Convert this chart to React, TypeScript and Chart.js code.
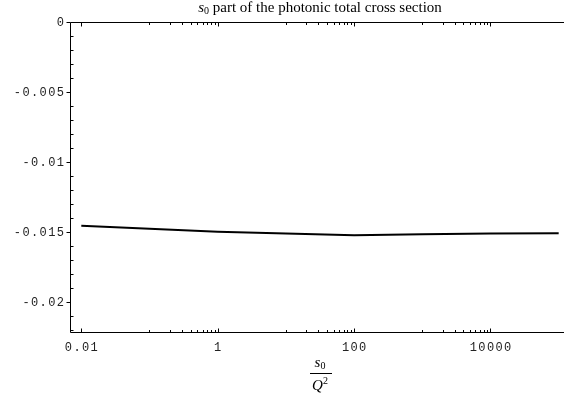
import React, { useEffect, useRef } from "react";
import { Chart, registerables } from "chart.js";

Chart.register(...registerables);

// Data
const xValues: number[] = [0.01, 0.1, 1, 10, 100, 1000, 10000, 100000];
const yValues: number[] = [-0.01453, -0.01474, -0.01496, -0.01509, -0.01521, -0.01514, -0.01509, -0.01507];

const xMajorTicks: number[] = [0.01, 1, 100, 10000];
const xTickLabels: string[] = ["0.01", "1", "100", "10000"];
const yMajorTicks: number[] = [0, -0.005, -0.01, -0.015, -0.02];
const yTickLabels: string[] = ["0", "-0.005", "-0.01", "-0.015", "-0.02"];
const yMinorStep = 0.001;

const X_MIN = Math.pow(10, -2.173);
const X_MAX = Math.pow(10, 5.078);
const Y_MIN = -0.0221;
const Y_MAX = 0;

const MONO = '"Liberation Mono", monospace';
const SERIF = '"Liberation Serif", serif';

function drawSubText(ctx: CanvasRenderingContext2D, cx: number, base: number, main: string, sub: string, rest: string, supMode: boolean, size: number) {
  const sm = Math.round(size * 0.68);
  ctx.save();
  ctx.textAlign = "left";
  ctx.textBaseline = "alphabetic";
  ctx.fillStyle = "#000";
  (ctx as any).letterSpacing = "0px";
  ctx.font = `italic ${size}px ${SERIF}`;
  const w1 = ctx.measureText(main).width;
  ctx.font = `${sm}px ${SERIF}`;
  const w2 = ctx.measureText(sub).width;
  ctx.font = `${size}px ${SERIF}`;
  const w3 = rest ? ctx.measureText(rest).width : 0;
  const total = w1 + w2 + w3;
  let x = cx - total / 2;
  ctx.font = `italic ${size}px ${SERIF}`;
  ctx.fillText(main, x, base);
  x += w1;
  ctx.font = `${sm}px ${SERIF}`;
  ctx.fillText(sub, x, supMode ? base - size * 0.4 : base + size * 0.15);
  x += w2;
  if (rest) {
    ctx.font = `${size}px ${SERIF}`;
    ctx.fillText(rest, x, base);
  }
  ctx.restore();
  return total;
}

const axesPlugin = {
  id: "mmaAxes",
  afterDraw(chart: any) {
    const ctx: CanvasRenderingContext2D = chart.ctx;
    const xs = chart.scales.x;
    const ys = chart.scales.y;
    const area = chart.chartArea;
    const W = chart.width;
    const L = Math.round(area.left) + 0.5;
    const T = Math.round(ys.getPixelForValue(Y_MAX)) + 0.5;
    const B = Math.round(ys.getPixelForValue(Y_MIN)) + 0.5;
    ctx.save();
    ctx.strokeStyle = "#000";
    ctx.lineWidth = 1;
    ctx.beginPath();
    ctx.moveTo(L, T);
    ctx.lineTo(L, B);
    ctx.moveTo(L, T);
    ctx.lineTo(W, T);
    ctx.moveTo(L, B);
    ctx.lineTo(W, B);
    // y ticks
    const n = Math.round((Y_MAX - Y_MIN) / yMinorStep);
    for (let i = 0; i <= n; i++) {
      const v = -i * yMinorStep;
      if (v < Y_MIN) break;
      const py = Math.round(ys.getPixelForValue(v)) + 0.5;
      if (i % 5 === 0) {
        ctx.moveTo(L - 4, py);
        ctx.lineTo(L, py);
      } else {
        ctx.moveTo(L, py);
        ctx.lineTo(L + 3, py);
      }
    }
    // x ticks
    const drawXTick = (v: number, len: number) => {
      const px = Math.round(xs.getPixelForValue(v)) + 0.5;
      ctx.moveTo(px, B);
      ctx.lineTo(px, B - len);
      ctx.moveTo(px, T);
      ctx.lineTo(px, T + len);
    };
    xMajorTicks.forEach((v) => drawXTick(v, 4));
    xMajorTicks.forEach((v) => {
      if (v <= xMajorTicks[0]) return;
      for (let k = 1; k <= 9; k++) drawXTick((k * v) / 10, 2.5);
    });
    ctx.stroke();

    // tick labels
    ctx.fillStyle = "#222";
    ctx.font = `12px ${MONO}`;
    (ctx as any).letterSpacing = "1.4px";
    ctx.textBaseline = "middle";
    ctx.textAlign = "right";
    yMajorTicks.forEach((v, i) => {
      const py = ys.getPixelForValue(v);
      ctx.fillText(yTickLabels[i], L - 6.5 + 1.4, py + 0.5);
    });
    ctx.textAlign = "center";
    xMajorTicks.forEach((v, i) => {
      const px = xs.getPixelForValue(v);
      ctx.fillText(xTickLabels[i], px + 0.7, B + 15);
    });
    ctx.restore();

    // title
    drawSubText(ctx, 320, 11.5, "s", "0", " part of the photonic total cross section", false, 15);
    // x-axis label as fraction s0 / Q^2
    drawSubText(ctx, 320, 367, "s", "0", "", false, 15);
    drawSubText(ctx, 320, 390, "Q", "2", "", true, 15);
    ctx.save();
    ctx.strokeStyle = "#000";
    ctx.lineWidth = 1;
    ctx.beginPath();
    ctx.moveTo(310, 373.5);
    ctx.lineTo(332, 373.5);
    ctx.stroke();
    ctx.restore();
  },
};

export default function App() {
  const ref = useRef<HTMLCanvasElement | null>(null);
  useEffect(() => {
    document.body.style.margin = "0";
    const canvas = ref.current;
    if (!canvas) return;
    const chart = new Chart(canvas, {
      type: "line",
      data: {
        datasets: [
          {
            data: xValues.map((x, i) => ({ x, y: yValues[i] })),
            borderColor: "#000",
            borderWidth: 2,
            pointRadius: 0,
            fill: false,
            tension: 0,
          },
        ],
      },
      options: {
        animation: false,
        responsive: false,
        devicePixelRatio: 1,
        layout: { padding: { left: 69.5, right: 0, top: 22.3, bottom: 62.3 } },
        plugins: { legend: { display: false }, title: { display: false }, tooltip: { enabled: false } },
        scales: {
          x: { type: "logarithmic", min: X_MIN, max: X_MAX, display: false },
          y: { type: "linear", min: Y_MIN, max: Y_MAX, display: false },
        },
      },
      plugins: [axesPlugin],
    });
    return () => chart.destroy();
  }, []);
  return (
    <div style={{ position: "absolute", left: 0, top: 0, width: 564, height: 394, background: "#fff" }}>
      <canvas ref={ref} width={564} height={394} style={{ display: "block", width: 564, height: 394 }} />
    </div>
  );
}
